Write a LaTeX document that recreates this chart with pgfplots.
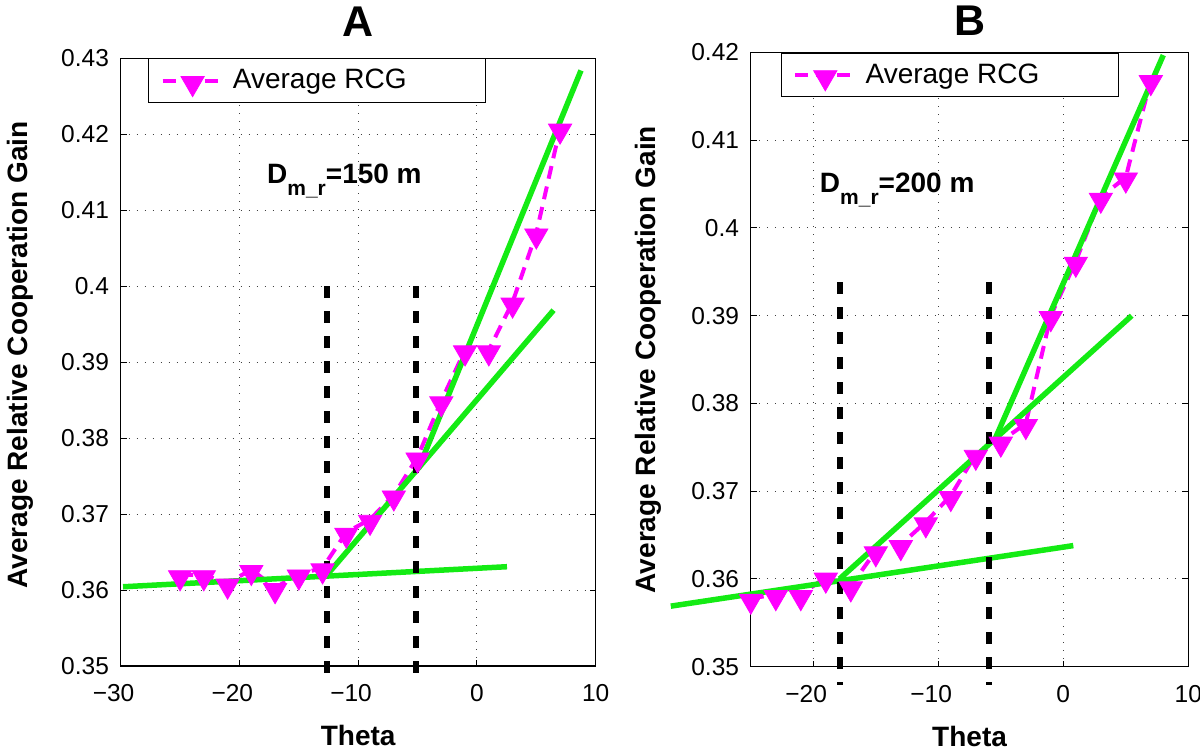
\documentclass[border=0pt]{standalone}
\usepackage{pgfplots}
\usepackage{pgfplotstable}
\pgfplotsset{compat=1.18}
\usepackage{fontspec}
\setmainfont{Liberation Sans}
\definecolor{lgreen}{RGB}{20,235,20}
\definecolor{mag}{RGB}{255,0,255}

\pgfplotstableread{
t v
-25 0.3620
-23 0.3620
-21 0.3609
-19 0.3627
-17 0.3603
-15 0.3621
-13 0.3629
-11 0.3676
-9 0.3693
-7 0.3725
-5 0.3775
-3 0.3849
-1 0.3916
1 0.3916
3 0.3979
5 0.4070
7 0.4208
}\dataA

\pgfplotstableread{
t v
-25 0.3578
-23 0.3582
-21 0.3582
-19 0.3602
-17 0.3592
-15 0.3632
-13 0.3639
-11 0.3665
-9 0.3695
-7 0.3742
-5 0.3757
-3 0.3777
-1 0.3900
1 0.3962
3 0.4035
5 0.4058
7 0.4169
}\dataB

\pgfplotsset{
  myaxis/.style={
    scale only axis,
    clip=false,
    axis line style={line width=0.6pt},
    tick align=inside,
    major tick length=3pt,
    tick style={line width=0.5pt, black},
    grid=major,
    grid style={black!75, line width=0.5pt, dash pattern=on 0.5pt off 3.5pt},
    ticklabel style={font=\fontsize{12.25}{14}\selectfont},
    xticklabel style={inner sep=0pt, yshift=-9pt},
    yticklabel style={inner sep=0pt, xshift=-5.7pt},
    scaled y ticks=false,
    xlabel={Theta},
    ylabel={Average Relative Cooperation Gain},
    label style={font=\fontsize{14}{16}\selectfont\bfseries},
    xlabel style={at={(rel axis cs:0.5,0)}, anchor=base, yshift=-40pt, inner sep=0pt},
    every axis title/.style={at={(rel axis cs:0.5,1)}, anchor=base, font=\fontsize{21.5}{24}\selectfont\bfseries, inner sep=0pt},
    legend style={anchor=north west, draw=black, line width=0.6pt, inner xsep=0pt, inner ysep=0pt,
      minimum height=21.75pt, column sep=0pt, row sep=0pt,
      font=\fontsize{14}{16}\selectfont, nodes={inner sep=0pt}},
    legend image code/.code={
      \path (0pt,0pt) (40pt,0pt);
      \draw[mark repeat=2,mark phase=2,#1] plot coordinates {(5.85pt,0pt) (20.85pt,0pt) (35.85pt,0pt)};
    },
  },
  magplot/.style={mag, line width=2pt, dash pattern=on 6.5pt off 4pt, mark=triangle*, mark size=6.7pt,
    mark options={solid, fill=mag, draw=mag, line width=0.4pt, yshift=-1.3pt, rotate=180}},
  greenline/.style={lgreen, line width=2.75pt, forget plot},
  blackdash/.style={black, line width=3pt, dash pattern=on 6pt off 6.5pt, forget plot},
}

\begin{document}
\begin{tikzpicture}
\useasboundingbox (0pt,0pt) rectangle (600pt,376.5pt);

% Panel A
\begin{axis}[myaxis,
  at={(60.35pt,43.5pt)}, anchor=south west,
  width=237.5pt, height=303.85pt,
  xmin=-30, xmax=10, ymin=0.35, ymax=0.43,
  xtick={-30,-20,-10,0,10},
  xticklabels={\llap{−}30,\llap{−}20,\llap{−}10,0,10},
  ytick={0.35,0.36,0.37,0.38,0.39,0.40,0.41,0.42,0.43},
  yticklabels={0.35,0.36,0.37,0.38,0.39,0.4,0.41,0.42,0.43},
  title={A},
  title style={yshift=11pt},
  ylabel style={at={(rel axis cs:-0.24,0.512)}, anchor=north, inner sep=0pt},
  legend style={at={(rel axis cs:0.0581,1)}},
]
\addplot[magplot] table[x=t,y=v]{\dataA};
\addlegendentry{\makebox[126.35pt][l]{Average RCG}}
\addplot[greenline] coordinates {(-29.8,0.36043) (2.53,0.36307)};
\addplot[greenline] coordinates {(-12.64,0.36197) (6.45,0.39684)};
\addplot[greenline] coordinates {(-4.92,0.3760) (8.76,0.4284)};
\addplot[blackdash] coordinates {(-12.6,0.40) (-12.6,0.3475)};
\addplot[blackdash] coordinates {(-5.17,0.40) (-5.17,0.3475)};
\node[anchor=base west, inner sep=0pt, font=\fontsize{14}{16}\selectfont\bfseries]
  at (axis cs:-17.7,0.4135) {D\raisebox{-5.85pt}{\fontsize{10.5}{12}\selectfont m\_r}=150 m};
\end{axis}

% Panel B
\begin{axis}[myaxis,
  at={(375.4pt,43.15pt)}, anchor=south west,
  width=218.75pt, height=307.1pt,
  xmin=-25, xmax=10, ymin=0.35, ymax=0.42,
  xtick={-20,-10,0,10},
  xticklabels={\llap{−}20,\llap{−}10,0,10},
  ytick={0.35,0.36,0.37,0.38,0.39,0.40,0.41,0.42},
  yticklabels={0.35,0.36,0.37,0.38,0.39,0.4,0.41,0.42},
  title={B},
  title style={yshift=8.4pt},
  ylabel style={at={(rel axis cs:-0.266,0.5)}, anchor=north, inner sep=0pt},
  legend style={at={(rel axis cs:0.069,1)}},
]
\addplot[magplot] table[x=t,y=v]{\dataB};
\addlegendentry{\makebox[126.35pt][l]{Average RCG}}
\addplot[greenline] coordinates {(-31.4,0.3569) (0.8,0.3638)};
\addplot[greenline] coordinates {(-17.9,0.3600) (5.47,0.3900)};
\addplot[greenline] coordinates {(-5.6,0.3755) (8.0,0.4197)};
\addplot[blackdash] coordinates {(-17.9,0.3938) (-17.9,0.3479)};
\addplot[blackdash] coordinates {(-5.94,0.3938) (-5.94,0.3479)};
\node[anchor=base west, inner sep=0pt, font=\fontsize{14}{16}\selectfont\bfseries]
  at (axis cs:-19.5,0.4040) {D\raisebox{-5.85pt}{\fontsize{10.5}{12}\selectfont m\_r}=200 m};
\end{axis}
\end{tikzpicture}
\end{document}
